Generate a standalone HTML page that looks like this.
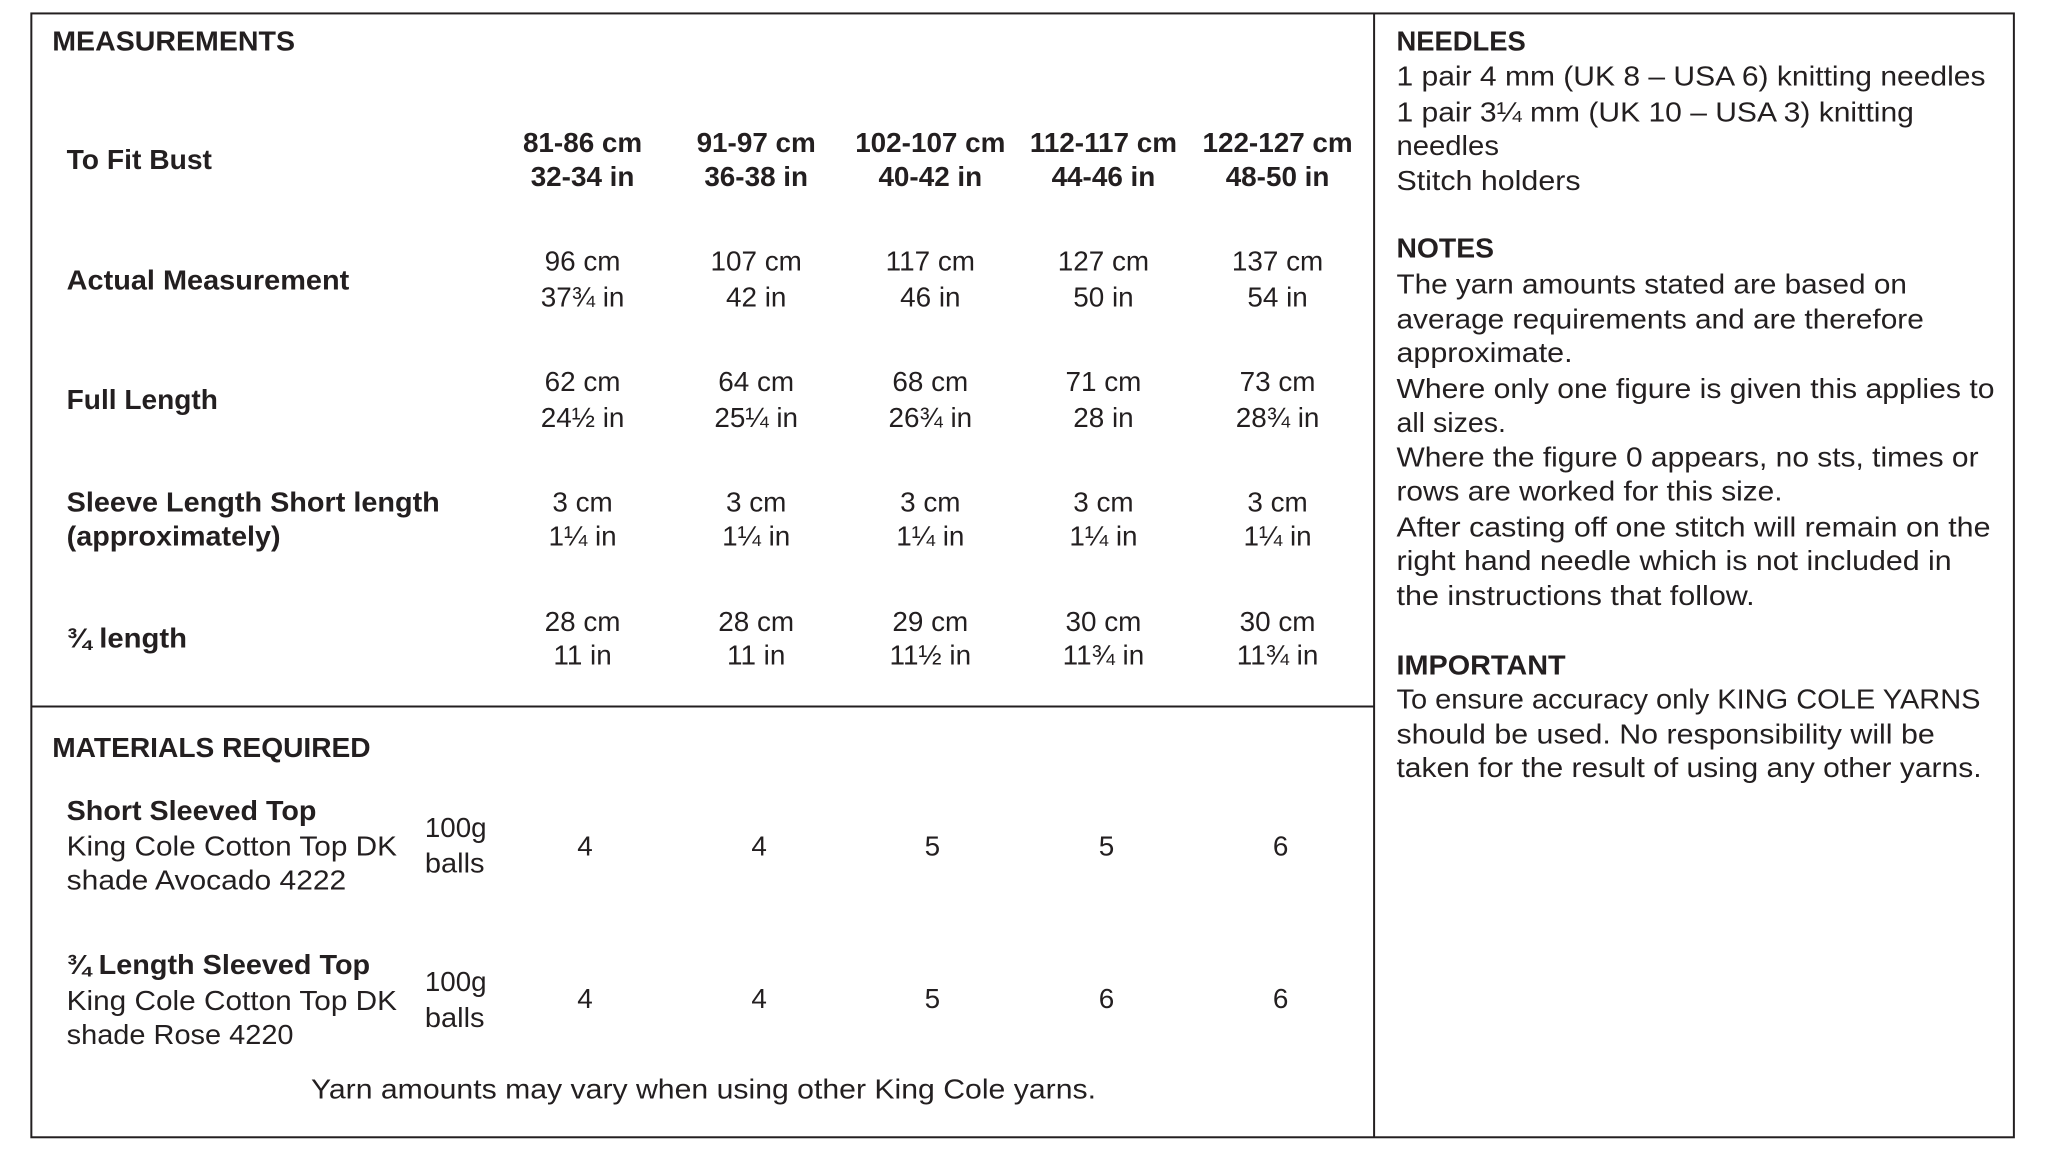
<!DOCTYPE html>
<html><head><meta charset="utf-8"><style>
html,body{margin:0;padding:0;background:#fff;}
svg{display:block;}
text{font-family:"Liberation Sans",sans-serif;font-size:28px;fill:#231f20;}
.b{font-weight:bold;}
.c{text-anchor:middle;}
</style></head><body>
<svg width="2048" height="1154" viewBox="0 0 2048 1154" xmlns="http://www.w3.org/2000/svg">
<g transform="translate(0,-1) scale(0.995)">
<rect x="31.5" y="14.5" width="1992.5" height="1129.5" fill="none" stroke="#231f20" stroke-width="2"/>
<line x1="1381" y1="14.5" x2="1381" y2="1144" stroke="#231f20" stroke-width="2"/>
<line x1="31.5" y1="711" x2="1381" y2="711" stroke="#231f20" stroke-width="2"/>

<text class="b" x="52.5" y="52" textLength="244" lengthAdjust="spacingAndGlyphs">MEASUREMENTS</text>
<text class="b" x="67" y="171" textLength="146" lengthAdjust="spacingAndGlyphs">To Fit Bust</text>
<text class="b" x="67" y="292" textLength="284" lengthAdjust="spacingAndGlyphs">Actual Measurement</text>
<text class="b" x="67" y="412" textLength="152" lengthAdjust="spacingAndGlyphs">Full Length</text>
<text class="b" x="67" y="515" textLength="375" lengthAdjust="spacingAndGlyphs">Sleeve Length Short length</text>
<text class="b" x="67" y="549" textLength="215" lengthAdjust="spacingAndGlyphs">(approximately)</text>
<text class="b" x="67" y="652" textLength="121" lengthAdjust="spacingAndGlyphs">¾ length</text>

<g class="c">
<text class="b c" x="585.5" y="154">81-86 cm</text><text class="b c" x="585.5" y="188">32-34 in</text>
<text class="b c" x="760" y="154">91-97 cm</text><text class="b c" x="760" y="188">36-38 in</text>
<text class="b c" x="935" y="154">102-107 cm</text><text class="b c" x="935" y="188">40-42 in</text>
<text class="b c" x="1109" y="154">112-117 cm</text><text class="b c" x="1109" y="188">44-46 in</text>
<text class="b c" x="1284" y="154">122-127 cm</text><text class="b c" x="1284" y="188">48-50 in</text>

<text class="c" x="585.5" y="273">96 cm</text><text class="c" x="585.5" y="309">37¾ in</text>
<text class="c" x="760" y="273">107 cm</text><text class="c" x="760" y="309">42 in</text>
<text class="c" x="935" y="273">117 cm</text><text class="c" x="935" y="309">46 in</text>
<text class="c" x="1109" y="273">127 cm</text><text class="c" x="1109" y="309">50 in</text>
<text class="c" x="1284" y="273">137 cm</text><text class="c" x="1284" y="309">54 in</text>

<text class="c" x="585.5" y="394">62 cm</text><text class="c" x="585.5" y="430">24½ in</text>
<text class="c" x="760" y="394">64 cm</text><text class="c" x="760" y="430">25¼ in</text>
<text class="c" x="935" y="394">68 cm</text><text class="c" x="935" y="430">26¾ in</text>
<text class="c" x="1109" y="394">71 cm</text><text class="c" x="1109" y="430">28 in</text>
<text class="c" x="1284" y="394">73 cm</text><text class="c" x="1284" y="430">28¾ in</text>

<text class="c" x="585.5" y="515">3 cm</text><text class="c" x="585.5" y="549">1¼ in</text>
<text class="c" x="760" y="515">3 cm</text><text class="c" x="760" y="549">1¼ in</text>
<text class="c" x="935" y="515">3 cm</text><text class="c" x="935" y="549">1¼ in</text>
<text class="c" x="1109" y="515">3 cm</text><text class="c" x="1109" y="549">1¼ in</text>
<text class="c" x="1284" y="515">3 cm</text><text class="c" x="1284" y="549">1¼ in</text>

<text class="c" x="585.5" y="635">28 cm</text><text class="c" x="585.5" y="669">11 in</text>
<text class="c" x="760" y="635">28 cm</text><text class="c" x="760" y="669">11 in</text>
<text class="c" x="935" y="635">29 cm</text><text class="c" x="935" y="669">11½ in</text>
<text class="c" x="1109" y="635">30 cm</text><text class="c" x="1109" y="669">11¾ in</text>
<text class="c" x="1284" y="635">30 cm</text><text class="c" x="1284" y="669">11¾ in</text>
</g>

<text class="b" x="52.5" y="762" textLength="320" lengthAdjust="spacingAndGlyphs">MATERIALS REQUIRED</text>
<text class="b" x="67" y="825" textLength="251" lengthAdjust="spacingAndGlyphs">Short Sleeved Top</text>
<text x="67" y="861" textLength="332" lengthAdjust="spacingAndGlyphs">King Cole Cotton Top DK</text>
<text x="67" y="895" textLength="281" lengthAdjust="spacingAndGlyphs">shade Avocado 4222</text>
<text x="427" y="842" textLength="62" lengthAdjust="spacingAndGlyphs">100g</text>
<text x="427" y="878" textLength="60" lengthAdjust="spacingAndGlyphs">balls</text>
<text class="c" x="588" y="861">4</text>
<text class="c" x="763" y="861">4</text>
<text class="c" x="937" y="861">5</text>
<text class="c" x="1112" y="861">5</text>
<text class="c" x="1287" y="861">6</text>

<text class="b" x="67" y="980" textLength="305" lengthAdjust="spacingAndGlyphs">¾ Length Sleeved Top</text>
<text x="67" y="1016" textLength="332" lengthAdjust="spacingAndGlyphs">King Cole Cotton Top DK</text>
<text x="67" y="1050" textLength="228" lengthAdjust="spacingAndGlyphs">shade Rose 4220</text>
<text x="427" y="997" textLength="62" lengthAdjust="spacingAndGlyphs">100g</text>
<text x="427" y="1033" textLength="60" lengthAdjust="spacingAndGlyphs">balls</text>
<text class="c" x="588" y="1014">4</text>
<text class="c" x="763" y="1014">4</text>
<text class="c" x="937" y="1014">5</text>
<text class="c" x="1112" y="1014">6</text>
<text class="c" x="1287" y="1014">6</text>

<text x="312.5" y="1105" textLength="789" lengthAdjust="spacingAndGlyphs">Yarn amounts may vary when using other King Cole yarns.</text>

<text class="b" x="1403.5" y="52" textLength="130" lengthAdjust="spacingAndGlyphs">NEEDLES</text>
<text x="1403.5" y="87" textLength="592" lengthAdjust="spacingAndGlyphs">1 pair 4 mm (UK 8 – USA 6) knitting needles</text>
<text x="1403.5" y="123" textLength="520" lengthAdjust="spacingAndGlyphs">1 pair 3¼ mm (UK 10 – USA 3) knitting</text>
<text x="1403.5" y="157" textLength="103" lengthAdjust="spacingAndGlyphs">needles</text>
<text x="1403.5" y="192" textLength="185" lengthAdjust="spacingAndGlyphs">Stitch holders</text>

<text class="b" x="1403.5" y="260" textLength="98" lengthAdjust="spacingAndGlyphs">NOTES</text>
<text x="1403.5" y="296" textLength="513" lengthAdjust="spacingAndGlyphs">The yarn amounts stated are based on</text>
<text x="1403.5" y="331" textLength="530" lengthAdjust="spacingAndGlyphs">average requirements and are therefore</text>
<text x="1403.5" y="365" textLength="177" lengthAdjust="spacingAndGlyphs">approximate.</text>
<text x="1403.5" y="401" textLength="601" lengthAdjust="spacingAndGlyphs">Where only one figure is given this applies to</text>
<text x="1403.5" y="435" textLength="110" lengthAdjust="spacingAndGlyphs">all sizes.</text>
<text x="1403.5" y="470" textLength="585" lengthAdjust="spacingAndGlyphs">Where the figure 0 appears, no sts, times or</text>
<text x="1403.5" y="504" textLength="388" lengthAdjust="spacingAndGlyphs">rows are worked for this size.</text>
<text x="1403.5" y="540" textLength="597" lengthAdjust="spacingAndGlyphs">After casting off one stitch will remain on the</text>
<text x="1403.5" y="574" textLength="558" lengthAdjust="spacingAndGlyphs">right hand needle which is not included in</text>
<text x="1403.5" y="609" textLength="360" lengthAdjust="spacingAndGlyphs">the instructions that follow.</text>

<text class="b" x="1403.5" y="679" textLength="170" lengthAdjust="spacingAndGlyphs">IMPORTANT</text>
<text x="1403.5" y="713" textLength="587" lengthAdjust="spacingAndGlyphs">To ensure accuracy only KING COLE YARNS</text>
<text x="1403.5" y="748" textLength="541" lengthAdjust="spacingAndGlyphs">should be used. No responsibility will be</text>
<text x="1403.5" y="782" textLength="588" lengthAdjust="spacingAndGlyphs">taken for the result of using any other yarns.</text>
</g>
</svg>
</body></html>
